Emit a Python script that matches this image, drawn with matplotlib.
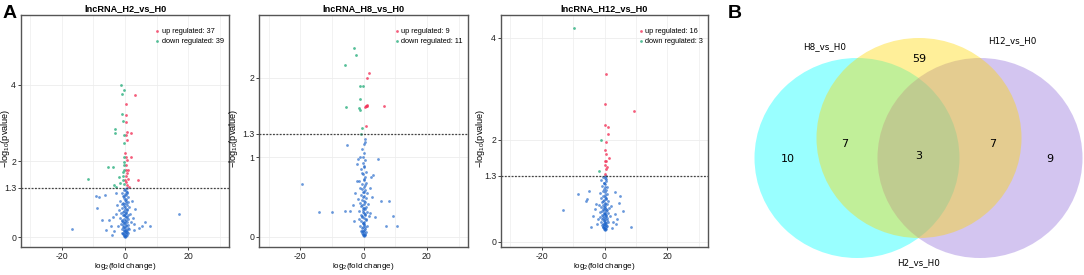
import numpy as np
import matplotlib
matplotlib.use("Agg")
import matplotlib.pyplot as plt
from matplotlib.patches import Ellipse

plt.rcParams['font.family'] = ['Liberation Sans', 'DejaVu Sans']
plt.rcParams['mathtext.fontset'] = 'custom'
plt.rcParams['mathtext.rm'] = 'Liberation Sans'
plt.rcParams['mathtext.it'] = 'Liberation Sans'

# ---------------- data: volcano panels ----------------
titles = ['lncRNA_H2_vs_H0', 'lncRNA_H8_vs_H0', 'lncRNA_H12_vs_H0']
up_counts = [37, 9, 16]
down_counts = [39, 11, 3]
y_ticks = [[0, 1.3, 2, 4], [0, 1, 1.3, 2], [0, 1.3, 2, 4]]
y_limits = [(-0.26, 5.84), (-0.126, 2.79), (-0.1, 4.45)]

# panel 1 (H2 vs H0)
p1_up_x = [3.15, 0.2, 0.25, 0.2, 0.6, 1.9, 0.45, 0.6, 0.0, 0.3, 1.9, 0.5, 0.45, 0.95, 0.6,
           0.45, 0.8, 4.2, 0.45, 0.7, 0.1, 1.15, 0.2]
p1_up_y = [3.74, 3.49, 3.2, 3.03, 2.76, 2.75, 2.68, 2.55, 2.2, 2.11, 2.11, 2.03, 1.89, 1.76, 1.68,
           1.6, 1.53, 1.51, 1.44, 1.38, 1.51, 1.31, 1.76]
p1_down_x = [-1.26, -0.4, -0.9, -0.85, -0.6, -3.2, -3.15, -0.2, -0.3, -5.4, -3.9, -0.3, -0.3, -0.3,
             -0.3, -11.65, -2.0, -0.5, -1.6, -0.2, -3.0, -0.6, -0.5, -3.5]
p1_down_y = [4.0, 3.87, 3.76, 3.23, 3.06, 2.84, 2.74, 2.68, 2.48, 1.84, 1.84, 2.11, 1.98, 1.89,
             1.76, 1.53, 1.58, 1.6, 1.41, 1.39, 1.31, 1.5, 1.7, 1.38]
p1_ns_x = [0.1, -0.3, 0.4, -0.6, 0.7, -0.1, 0.2, -0.8, 1.0, -0.4, 0.5, -1.1, 0.0, 1.3, -0.2, 0.3,
           -0.7, 0.8, -1.4, 0.1, -0.5, 0.6, 1.8, -0.9, 0.2, -0.3, 1.1, -1.7, 0.4, -0.1, 0.9, -0.6,
           0.0, 1.5, -1.2, 0.3, -0.4, 0.7, -2.0, 0.1, -0.8, 1.2, -0.2, 0.5, -1.0, 0.2, -0.5, 0.8,
           -1.5, 0.0, 0.4, -0.3, 1.0, -0.7, 0.2, -0.1, 0.6, -1.1, 0.3, -0.4, 0.1, 0.5,
           -16.8, 17.0, 7.9, -9.1, -8.1, -6.2, -8.9, -7.3, -5.0, -3.5, -4.5, -3.0, -2.6, 3.0, 4.5,
           5.5, 2.5, 3.2, 2.2, -2.3, -3.8, -2.8, 2.8, -6.0, 6.5, -4.0,
           0.0, -0.2, 0.3, -0.5, 0.6, -0.1, 0.2, -0.3, 0.9, -0.6, 0.4, -0.2, 0.1, -0.9, 0.7, -0.3,
           0.2, -0.7, 0.5, 0.0, -0.4, 0.3, -0.2, 0.6]
p1_ns_y = [0.02, 0.05, 0.03, 0.08, 0.06, 0.11, 0.14, 0.12, 0.10, 0.17, 0.19, 0.21, 0.23, 0.22,
           0.27, 0.29, 0.31, 0.33, 0.35, 0.36, 0.39, 0.41, 0.40, 0.43, 0.45, 0.48, 0.47, 0.50, 0.52,
           0.55, 0.57, 0.59, 0.62, 0.61, 0.64, 0.66, 0.69, 0.71, 0.72, 0.75, 0.77, 0.79, 0.82, 0.84,
           0.86, 0.89, 0.91, 0.93, 0.95, 0.98, 1.00, 1.03, 1.05, 1.07, 1.10, 1.13, 1.15, 1.17, 1.20,
           1.23, 1.26, 1.28,
           0.21, 0.61, 0.29, 1.08, 1.05, 1.12, 0.76, 0.45, 0.45, 0.15, 0.30, 0.60, 0.85, 0.35, 0.25,
           0.30, 0.50, 0.75, 0.95, 0.30, 0.52, 1.15, 0.20, 0.20, 0.40, 0.05,
           0.01, 0.04, 0.07, 0.10, 0.13, 0.16, 0.18, 0.20, 0.25, 0.26, 0.32, 0.38, 0.42, 0.46, 0.53,
           0.58, 0.63, 0.67, 0.73, 0.80, 0.87, 0.94, 1.08, 1.18]

# panel 2 (H8 vs H0)
p2_up_x = [1.7, 1.15, 0.7, 0.85, 1.0, 6.6, 0.85, 0.5, 1.2]
p2_up_y = [2.06, 2.0, 1.64, 1.65, 1.64, 1.65, 1.39, 1.63, 1.66]
p2_down_x = [-3.0, -2.4, -5.8, -1.1, -0.2, -1.1, -5.5, -1.0, -0.4, -0.7, -1.5]
p2_down_y = [2.37, 2.29, 2.16, 1.9, 1.9, 1.73, 1.63, 1.59, 1.37, 1.30, 1.62]
p2_ns_x = [0.0, -0.3, 0.4, -0.5, 0.6, -0.1, 0.2, -0.8, 0.9, -0.4, 0.5, -1.0, 0.1, 1.2, -0.2, 0.3,
           -0.7, 0.8, -1.3, 0.0, -0.5, 0.6, 1.6, -0.9, 0.2, -0.3, 1.0, -1.5, 0.4, -0.1, 0.8, -0.6,
           0.0, 1.4, -1.1, 0.3, -0.4, 0.7, -1.8, 0.1, -0.8, 1.1, -0.2, 0.5, -1.0, 0.2, -0.5, 0.8,
           -1.4, 0.0, 0.4, -0.3, 0.9, -0.7, 0.2, -0.1, 0.6, -1.0, 0.3, -0.4, 0.1, 0.5,
           -19.3, -13.9, -9.9, -5.8, -4.3, 5.5, 7.9, 9.4, 10.5, 7.2, 4.5, -5.3, 2.5, 3.0, -2.2,
           -1.8, 2.0, -3.0, -2.6, 2.7, -3.4, 3.6, 1.9, -2.0,
           0.0, -0.2, 0.3, -0.4, 0.5, -0.1, 0.2, -0.3, 0.7, -0.6, 0.4, -0.2, 0.1, -0.8, 0.6, -0.3,
           0.2, -0.6, 0.4, 0.0, -0.4, 0.3, -0.2, 0.5]
p2_ns_y = [0.01, 0.03, 0.02, 0.05, 0.04, 0.07, 0.09, 0.08, 0.06, 0.11, 0.12, 0.14, 0.15, 0.14,
           0.17, 0.19, 0.20, 0.21, 0.23, 0.24, 0.26, 0.27, 0.26, 0.28, 0.30, 0.32, 0.31, 0.33, 0.35,
           0.37, 0.38, 0.40, 0.42, 0.41, 0.43, 0.45, 0.47, 0.49, 0.48, 0.51, 0.53, 0.55, 0.57, 0.59,
           0.61, 0.63, 0.66, 0.68, 0.70, 0.73, 0.76, 0.79, 0.82, 0.85, 0.89, 0.93, 0.97, 1.01, 1.06,
           1.11, 1.17, 1.23,
           0.66, 0.32, 0.31, 0.33, 0.33, 0.45, 0.45, 0.26, 0.14, 0.14, 0.98, 1.15, 0.76, 0.78, 0.92,
           0.98, 0.30, 0.20, 0.55, 0.50, 0.40, 0.25, 0.62, 0.70,
           0.02, 0.04, 0.06, 0.08, 0.10, 0.13, 0.16, 0.18, 0.22, 0.25, 0.29, 0.34, 0.36, 0.39, 0.44,
           0.50, 0.56, 0.60, 0.65, 0.72, 0.80, 0.88, 1.00, 1.20]

# panel 3 (H12 vs H0)
p3_up_x = [0.45, 0.1, 9.4, 0.0, 1.2, 1.1, 0.1, 0.45, 1.4, 0.0, 0.6, 0.3, 0.45, 0.2, 0.8, 0.5]
p3_up_y = [3.29, 2.70, 2.56, 2.30, 2.26, 2.11, 1.81, 1.72, 1.64, 1.59, 1.59, 1.51, 1.42, 1.34,
           1.47, 1.95]
p3_down_x = [-9.7, -1.0, -1.8]
p3_down_y = [4.2, 1.99, 1.39]
p3_ns_x = [0.0, -0.3, 0.4, -0.5, 0.6, -0.1, 0.2, -0.8, 0.9, -0.4, 0.5, -1.0, 0.1, 1.2, -0.2, 0.3,
           -0.7, 0.8, -1.3, 0.0, -0.5, 0.6, 1.6, -0.9, 0.2, -0.3, 1.0, -1.5, 0.4, -0.1, 0.8, -0.6,
           0.0, 1.4, -1.1, 0.3, -0.4, 0.7, -1.8, 0.1, -0.8, 1.1, -0.2, 0.5, -1.0, 0.2, -0.5, 0.8,
           -1.4, 0.0, 0.4, -0.3, 0.9, -0.7, 0.2, -0.1, 0.6, -1.0, 0.3, -0.4, 0.1, 0.5,
           -13.1, 8.6, -8.6, -5.0, -5.5, 4.5, 5.0, 3.5, -3.0, 6.0, -2.5, 2.8, -3.8, 3.2, -2.0, 2.2,
           -4.2, 4.0, -6.0, 2.5, -2.8, 3.8,
           0.0, -0.2, 0.3, -0.4, 0.5, -0.1, 0.2, -0.3, 0.7, -0.6, 0.4, -0.2, 0.1, -0.8, 0.6, -0.3,
           0.2, -0.6, 0.4, 0.0, -0.4, 0.3, -0.2, 0.5]
p3_ns_y = [0.25, 0.27, 0.26, 0.30, 0.29, 0.32, 0.34, 0.33, 0.31, 0.36, 0.37, 0.39, 0.40, 0.39,
           0.42, 0.44, 0.45, 0.46, 0.48, 0.49, 0.51, 0.52, 0.51, 0.53, 0.55, 0.57, 0.56, 0.58, 0.60,
           0.62, 0.63, 0.65, 0.67, 0.66, 0.68, 0.70, 0.72, 0.74, 0.73, 0.76, 0.78, 0.80, 0.82, 0.84,
           0.86, 0.88, 0.91, 0.93, 0.95, 0.98, 1.01, 1.04, 1.07, 1.10, 1.13, 1.16, 1.19, 1.22, 1.25,
           1.27, 1.29, 1.30,
           0.62, 0.30, 0.94, 0.99, 0.85, 0.77, 0.90, 0.98, 0.65, 0.60, 0.35, 0.40, 0.50, 0.55, 0.45,
           0.70, 0.30, 0.45, 0.80, 0.28, 0.75, 0.35,
           0.24, 0.26, 0.28, 0.30, 0.33, 0.35, 0.38, 0.41, 0.43, 0.47, 0.50, 0.54, 0.57, 0.61, 0.64,
           0.69, 0.75, 0.81, 0.87, 0.92, 1.00, 1.08, 1.15, 1.24]

panels = [
    (p1_ns_x, p1_ns_y, p1_up_x, p1_up_y, p1_down_x, p1_down_y),
    (p2_ns_x, p2_ns_y, p2_up_x, p2_up_y, p2_down_x, p2_down_y),
    (p3_ns_x, p3_ns_y, p3_up_x, p3_up_y, p3_down_x, p3_down_y),
]

# ---------------- data: venn ----------------
venn_names = ['H8_vs_H0', 'H12_vs_H0', 'H2_vs_H0']
venn_counts = [10, 7, 59, 3, 7, 9]  # H8 only, H8&H2, H2 only, all, H2&H12, H12 only

# ---------------- figure ----------------
W, H = 1084, 275
fig = plt.figure(figsize=(W / 100, H / 100), dpi=100)

axes_px = [(21, 229), (259, 468), (501, 708)]
ylabel_px = [12, 240, 487]   # right edge of the rotated y label
top_px, bottom_px = 15, 247

red = '#F2355B'
green = '#2BAF7E'
blue = '#1B63C9'
frame_col = '#555555'

for i, (ns_x, ns_y, up_x, up_y, dn_x, dn_y) in enumerate(panels):
    l, r = axes_px[i]
    ax = fig.add_axes([l / W, 1 - bottom_px / H, (r - l) / W, (bottom_px - top_px) / H])
    ax.set_xlim(-33, 33)
    ax.set_ylim(*y_limits[i])

    # light grid
    for gx in [-30, -20, -10, 0, 10, 20, 30]:
        ax.axvline(gx, color='#F0F0F0', lw=0.6, zorder=0)
    for gy in y_ticks[i]:
        ax.axhline(gy, color='#EDEDED', lw=0.6, zorder=0)

    ax.scatter(ns_x, ns_y, s=4, color=blue, alpha=0.65, linewidths=0, zorder=2)
    ax.scatter(up_x, up_y, s=4, color=red, alpha=0.8, linewidths=0, zorder=3,
               label='up regulated: %d' % up_counts[i])
    ax.scatter(dn_x, dn_y, s=4, color=green, alpha=0.8, linewidths=0, zorder=3,
               label='down regulated: %d' % down_counts[i])

    ax.axhline(1.3, color='#444444', lw=0.9, ls=(0, (1.5, 1.2)), zorder=4)

    ax.set_xticks([-20, 0, 20])
    ax.set_xticklabels(['-20', '0', '20'])
    ax.set_yticks(y_ticks[i])
    ax.set_yticklabels([str(t) for t in y_ticks[i]])
    ax.tick_params(labelsize=6.3, length=2, width=0.6, pad=1.5, colors='#222222')
    for s in ax.spines.values():
        s.set_color(frame_col)
        s.set_linewidth(1.0)

    ax.set_title(titles[i], fontsize=6.6, fontweight='bold', pad=2.5)
    ax.set_xlabel(r'log$_2$(fold change)', fontsize=5.8)
    ax.xaxis.set_label_coords(0.5, (bottom_px - 261) / (bottom_px - top_px))
    ax.set_ylabel(r'$-$log$_{10}$(pvalue)', fontsize=6.6)
    ax.yaxis.set_label_coords((ylabel_px[i] - l) / (r - l), 0.47)

    ax.legend(loc='upper right', bbox_to_anchor=(1.0, 0.965), frameon=False,
              fontsize=5.3, handletextpad=0.0, borderpad=0.2, labelspacing=0.35,
              markerscale=1.0, handlelength=1.2)

fig.text(10 / W, 1 - 13 / H, 'A', fontsize=14, fontweight='bold',
         va='center', ha='center')
fig.text(735 / W, 1 - 13 / H, 'B', fontsize=14, fontweight='bold',
         va='center', ha='center')

# ---------------- venn ----------------
vax = fig.add_axes([720 / W, 0, (W - 720) / W, 1])
vax.set_xlim(720, W)
vax.set_ylim(H, 0)
vax.axis('off')

# draw order: H8 (cyan), H12 (purple), then H2 (yellow) on top
ell_centers = [(857, 158), (980, 158), (919, 138)]
ell_colors = ['#00FFFF', '#9370DB', '#FFD700']
for (cx, cy), c in zip(ell_centers, ell_colors):
    vax.add_patch(Ellipse((cx, cy), 205, 200, facecolor=c, alpha=0.4, edgecolor='none'))

name_pos = [(825, 47), (1012, 41), (919, 263)]
for (nx, ny), name in zip(name_pos, venn_names):
    vax.text(nx, ny, name, fontsize=6.3, family='DejaVu Sans', ha='center', va='center')

count_pos = [(788, 159), (845, 144), (919, 59), (919, 156), (993, 144), (1050, 159)]
for (tx, ty), n in zip(count_pos, venn_counts):
    vax.text(tx, ty, str(n), fontsize=8, family='DejaVu Sans', ha='center', va='center')

fig.savefig('out.png', dpi=100)
